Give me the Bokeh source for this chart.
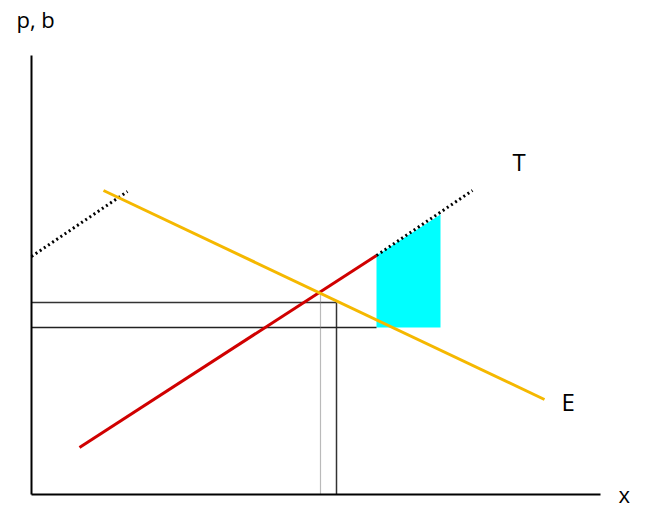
from bokeh.plotting import figure
from bokeh.models import Range1d
from bokeh.core.properties import value
from bokeh.embed import file_html
from bokeh.resources import INLINE

# axes (schematic)
axis_x = [0, 569]
axis_y = [0, 439]

# T line (cost): solid red part and dotted continuation
t_red_x = [48, 345]
t_red_y = [47, 239]
t_dot_x = [345, 441]
t_dot_y = [239, 304]
# shifted T (dotted, left)
t2_x = [0, 96]
t2_y = [238, 303]

# E line (demand)
e_x = [72, 513]
e_y = [304, 95]

# reference levels
p_high = 192
p_low = 167
x_high = 305
x_low_end = 345
x_eq = 289
y_eq = 202

# shaded area
shade_x = [345, 345, 409, 409]
shade_y = [167, 239, 280, 167]

labels = ["p, b", "T", "E", "x"]
label_x = [-15, 481, 530, 587]
label_y = [476, 333, 93, 1]
label_size = ["22px", "24px", "24px", "22px"]

p = figure(width=645, height=509, output_backend="svg", toolbar_location=None,
           x_range=Range1d(-31, 614), y_range=Range1d(-15, 494),
           min_border=0)
p.axis.visible = False
p.grid.visible = False
p.outline_line_color = None
p.background_fill_color = "white"

# shaded area
p.patch(shade_x, shade_y, fill_color="#00FFFF", line_color=None)

# reference lines
p.line([0, x_high], [p_high, p_high], line_color="#333333", line_width=1.5)
p.line([x_high, x_high], [0, p_high], line_color="#333333", line_width=1.5)
p.line([0, x_low_end], [p_low, p_low], line_color="#222222", line_width=1.5)
p.line([x_eq, x_eq], [0, y_eq], line_color="#777777", line_width=1.2, line_dash="1 1")

# axes
p.line([0, 0], axis_y, line_color="black", line_width=2)
p.line(axis_x, [0, 0], line_color="black", line_width=2)

# curves
p.line(t_red_x, t_red_y, line_color="#D00000", line_width=3)
p.line(t_dot_x, t_dot_y, line_color="black", line_width=3, line_dash="2 3")
p.line(t2_x, t2_y, line_color="black", line_width=3, line_dash="2 3")
p.line(e_x, e_y, line_color="#F5B800", line_width=3)

src = dict(x=label_x, y=label_y, t=labels, s=label_size)
p.text(x="x", y="y", text="t", text_font_size="s", source=src,
       text_font=value("Open Sans"), text_color="black",
       text_align="left", text_baseline="alphabetic")

open("out.html", "w").write(file_html(p, INLINE))
